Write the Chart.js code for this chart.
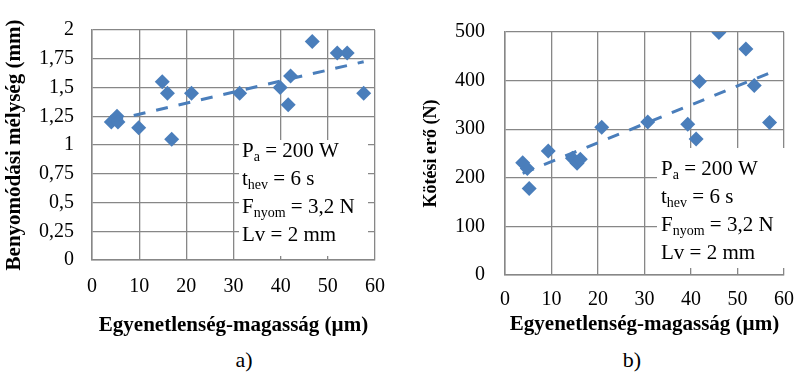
<!DOCTYPE html>
<html>
<head>
<meta charset="utf-8">
<script src="https://cdn.jsdelivr.net/npm/chart.js@4.4.1/dist/chart.umd.min.js"></script>
<style>
  body { margin: 0; background: #fff; width: 807px; height: 373px; position: relative; overflow: hidden; font-family: 'Liberation Serif', serif; }
  .panel { position: absolute; top: 0; height: 340px; }
  #panelA { left: 0; width: 400px; }
  #panelB { left: 400px; width: 407px; }
  .caption { position: absolute; top: 346px; width: 40px; text-align: center; font-size: 22px; line-height: 28px; color: #000; }
</style>
</head>
<body>
<div class="panel" id="panelA"><canvas id="chartA"></canvas></div>
<div class="panel" id="panelB"><canvas id="chartB"></canvas></div>
<div class="caption" style="left:224px">a)</div>
<div class="caption" style="left:612px">b)</div>
<script>
// --- Dados ---
// a) profundidade de indentação (mm) x altura de irregularidade (µm)
const depthX = [4.1, 5.3, 5.5, 9.9, 14.9, 16.0, 16.9, 21.1, 31.3, 39.9, 41.6, 42.1, 46.7, 52.0, 54.1, 57.6];
const depthY = [1.2, 1.25, 1.2, 1.15, 1.55, 1.45, 1.05, 1.45, 1.45, 1.5, 1.35, 1.6, 1.9, 1.8, 1.8, 1.45];
const depthTickLabels = ['0', '0,25', '0,5', '0,75', '1', '1,25', '1,5', '1,75', '2'];

// b) força de ligação (N) x altura de irregularidade (µm)
const forceX = [3.8, 4.8, 5.2, 9.3, 14.5, 15.5, 16.2, 20.8, 30.7, 39.3, 41.1, 41.8, 46.0, 51.8, 53.6, 56.9];
const forceY = [231, 219, 178, 255, 240, 230, 238, 304, 315, 310, 280, 398, 499, 465, 390, 314];
const forceTickLabels = ['0', '100', '200', '300', '400', '500'];

const xTickLabels = ['0', '10', '20', '30', '40', '50', '60'];

const xTitle = 'Egyenetlenség-magasság (µm)';
const depthTitle = 'Benyomódási mélység (mm)';
const forceTitle = 'Kötési erő (N)';

// Texto da caixa (partes com subscrito)
const infoLines = [
    [{ t: 'P' }, { t: 'a', sub: true }, { t: ' = 200 W' }],
    [{ t: 't' }, { t: 'hev', sub: true }, { t: ' = 6 s' }],
    [{ t: 'F' }, { t: 'nyom', sub: true }, { t: ' = 3,2 N' }],
    [{ t: 'Lv = 2 mm' }]
];

const colors = {
    marker: '#4A7EBB',
    grid: '#878787',
    text: '#000'
};

const FONT = "'Liberation Serif', serif";

// Reta de tendência linear (mínimos quadrados) entre o menor e o maior x
function trendLine(xs, ys) {
    const n = xs.length;
    const mx = xs.reduce((a, b) => a + b, 0) / n;
    const my = ys.reduce((a, b) => a + b, 0) / n;
    let sxy = 0, sxx = 0;
    for (let i = 0; i < n; i++) {
        sxy += (xs[i] - mx) * (ys[i] - my);
        sxx += (xs[i] - mx) * (xs[i] - mx);
    }
    const slope = sxy / sxx;
    const x0 = Math.min(...xs), x1 = Math.max(...xs);
    return [
        { x: x0, y: my + slope * (x0 - mx) },
        { x: x1, y: my + slope * (x1 - mx) }
    ];
}

// Caixa branca com os parâmetros, desenhada por cima da grade
const infoBoxPlugin = {
    id: 'infoBox',
    beforeDatasetsDraw(chart, args, opts) {
        const ctx = chart.ctx;
        ctx.save();
        ctx.fillStyle = '#fff';
        ctx.fillRect(opts.left, opts.top, opts.right - opts.left, opts.bottom - opts.top);
        ctx.fillStyle = colors.text;
        ctx.textBaseline = 'alphabetic';
        ctx.textAlign = 'left';
        infoLines.forEach((line, i) => {
            let x = opts.left + opts.inset;
            const y = opts.baseline + i * opts.gap;
            line.forEach(part => {
                ctx.font = (part.sub ? '14px ' : '21px ') + FONT;
                ctx.fillText(part.t, x, part.sub ? y + 4 : y);
                x += ctx.measureText(part.t).width;
            });
        });
        ctx.restore();
    }
};

function renderChart(id, cfg) {
    const ctx = document.getElementById(id).getContext('2d');
    const points = cfg.xs.map((x, i) => ({ x: x, y: cfg.ys[i] }));

    return new Chart(ctx, {
        type: 'scatter',
        data: {
            datasets: [
                {
                    type: 'line',
                    data: trendLine(cfg.xs, cfg.ys),
                    borderColor: colors.marker,
                    borderWidth: 3,
                    borderDash: [12, 11],
                    pointRadius: 0,
                    fill: false
                },
                {
                    data: points,
                    backgroundColor: colors.marker,
                    borderColor: colors.marker,
                    pointStyle: 'rectRot',
                    pointRadius: 7.5,
                    borderWidth: 0
                }
            ]
        },
        options: {
            responsive: true,
            maintainAspectRatio: false,
            animation: false,
            layout: { padding: cfg.padding },
            plugins: {
                legend: { display: false },
                tooltip: { enabled: false },
                infoBox: cfg.box
            },
            scales: {
                x: {
                    type: 'linear',
                    min: 0,
                    max: 60,
                    afterFit: s => { s.height = cfg.xHeight; },
                    grid: { color: colors.grid, lineWidth: 1.3, drawTicks: false },
                    border: { color: colors.grid, width: 1.5 },
                    ticks: {
                        stepSize: 10,
                        padding: cfg.xTickPad,
                        color: colors.text,
                        font: { family: FONT, size: 20 },
                        callback: (v, i) => xTickLabels[i]
                    },
                    title: {
                        display: true,
                        text: xTitle,
                        color: colors.text,
                        font: { family: FONT, size: 21, weight: 'bold', lineHeight: 1.2 },
                        padding: { top: 0, bottom: cfg.xTitlePad }
                    }
                },
                y: {
                    min: 0,
                    max: cfg.yMax,
                    afterFit: s => { s.width = cfg.yWidth; },
                    grid: { color: colors.grid, lineWidth: 1.3, drawTicks: false },
                    border: { color: colors.grid, width: 1.5 },
                    ticks: {
                        stepSize: cfg.yStep,
                        padding: cfg.yTickPad,
                        color: colors.text,
                        font: { family: FONT, size: 20 },
                        callback: (v, i) => cfg.yLabels[i]
                    },
                    title: {
                        display: true,
                        text: cfg.yTitle,
                        color: colors.text,
                        font: { family: FONT, size: cfg.yTitleSize, weight: 'bold', lineHeight: 1.2 },
                        padding: { top: cfg.yTitlePad, bottom: 0 }
                    }
                }
            }
        },
        plugins: [infoBoxPlugin]
    });
}

renderChart('chartA', {
    xs: depthX, ys: depthY,
    yMax: 2, yStep: 0.25, yLabels: depthTickLabels,
    yTitle: depthTitle, yTitleSize: 21, yTitlePad: 2,
    padding: { left: 0, top: 13, right: 20, bottom: 0 },
    yWidth: 92, xHeight: 80,
    xTickPad: 15, yTickPad: 18, xTitlePad: 2,
    box: { left: 239, right: 368, top: 140, bottom: 256, inset: 3, baseline: 157, gap: 28 }
});

renderChart('chartB', {
    xs: forceX, ys: forceY,
    yMax: 500, yStep: 100, yLabels: forceTickLabels,
    yTitle: forceTitle, yTitleSize: 18, yTitlePad: 21,
    padding: { left: 0, top: 13, right: 12, bottom: 0 },
    yWidth: 105, xHeight: 65,
    xTickPad: 13, yTickPad: 20, xTitlePad: 3,
    box: { left: 257, right: 390, top: 148, bottom: 268, inset: 4, baseline: 175, gap: 28 }
});
</script>
</body>
</html>
